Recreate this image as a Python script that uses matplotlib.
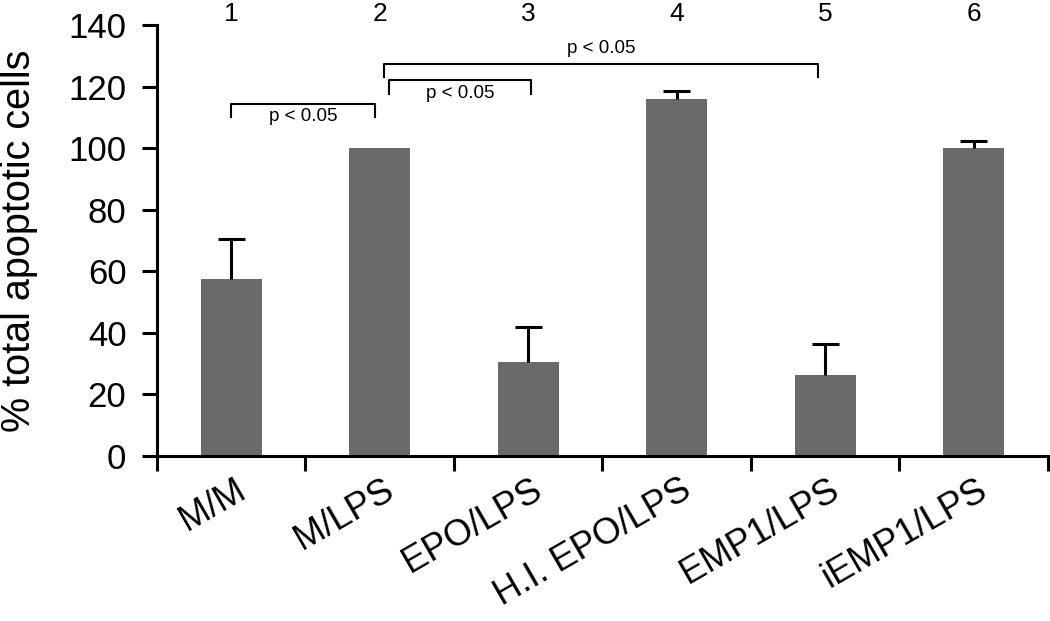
import matplotlib
matplotlib.use("Agg")
import matplotlib.pyplot as plt
import matplotlib.transforms as mtransforms
import numpy as np

categories = ["M/M", "M/LPS", "EPO/LPS", "H.I. EPO/LPS", "EMP1/LPS", "iEMP1/LPS"]
group_numbers = ["1", "2", "3", "4", "5", "6"]
values = [57.5, 100, 30.5, 116, 26.3, 100]
errors = [13, 0, 11.5, 2.5, 10.2, 2.3]

# significance brackets: (left idx, right idx, line y, text y)
brackets = [
    (0, 1, 114.3, 110.3),
    (1, 2, 122.0, 117.8),
    (1, 4, 127.3, 132.3),
]

plt.rcParams["font.family"] = ["Liberation Sans", "DejaVu Sans"]
BAR_COLOR = "#6a6a6a"

fig = plt.figure(figsize=(10.5, 6.21), dpi=100)
ax = fig.add_axes([0.1495, 0.2657, 0.8485, 0.694])

x = np.arange(len(categories))
vals = np.array(values)
errs = np.array(errors)
ax.bar(x, vals, width=0.41, color=BAR_COLOR, edgecolor="none", zorder=2)

# one-sided (upper) error bars, no cap at the bar top
has_err = errs > 0
ax.vlines(x[has_err], vals[has_err], vals[has_err] + errs[has_err],
          color="black", lw=2.2, zorder=3)
ax.hlines(vals[has_err] + errs[has_err], x[has_err] - 0.09, x[has_err] + 0.09,
          color="black", lw=2.2, zorder=3)

ax.set_xlim(-0.5, 5.5)
ax.set_ylim(0, 140)
ax.set_yticks(np.arange(0, 141, 20))
ax.set_xticks(np.arange(-0.5, 5.6, 1.0))
ax.set_xticklabels([])
ax.set_xticks(x, minor=True)
ax.set_xticklabels(categories, minor=True, rotation=30, ha="right",
                   rotation_mode="anchor", fontsize=26)
ax.tick_params(axis="x", which="minor", length=0, pad=12)
ax.tick_params(axis="x", which="major", length=11, width=2.2, direction="out")
ax.tick_params(axis="y", length=11, width=2.2, labelsize=25, pad=11)

shift = mtransforms.ScaledTranslation(2 / 72, 0, fig.dpi_scale_trans)
for lbl in ax.get_xticklabels(minor=True):
    lbl.set_transform(lbl.get_transform() + shift)

for side in ("top", "right"):
    ax.spines[side].set_visible(False)
for side in ("left", "bottom"):
    ax.spines[side].set_linewidth(2.2)

ax.set_ylabel("% total apoptotic cells", fontsize=28.5)
ax.yaxis.set_label_coords(-0.133, 0.5)

for xi, n in zip(x, group_numbers):
    ax.text(xi, 143.6, n, ha="center", va="center", fontsize=19, clip_on=False)

for i, j, ly, ty in brackets:
    x0 = x[i] + (0.0 if i == 0 else 0.03 if j == 4 else 0.06)
    x1 = x[j] - (0.03 if j != 4 else 0.05)
    if i == 1 and j == 2:
        x1 = x[j] + 0.02
    ax.plot([x0, x0, x1, x1], [ly - 4.3, ly, ly, ly - 4.3], color="black",
            lw=1.5, clip_on=False, zorder=4)
    ax.text((x0 + x1) / 2, ty, "p < 0.05", ha="center", va="center", fontsize=13.5)

fig.savefig("out.png", dpi=100)
